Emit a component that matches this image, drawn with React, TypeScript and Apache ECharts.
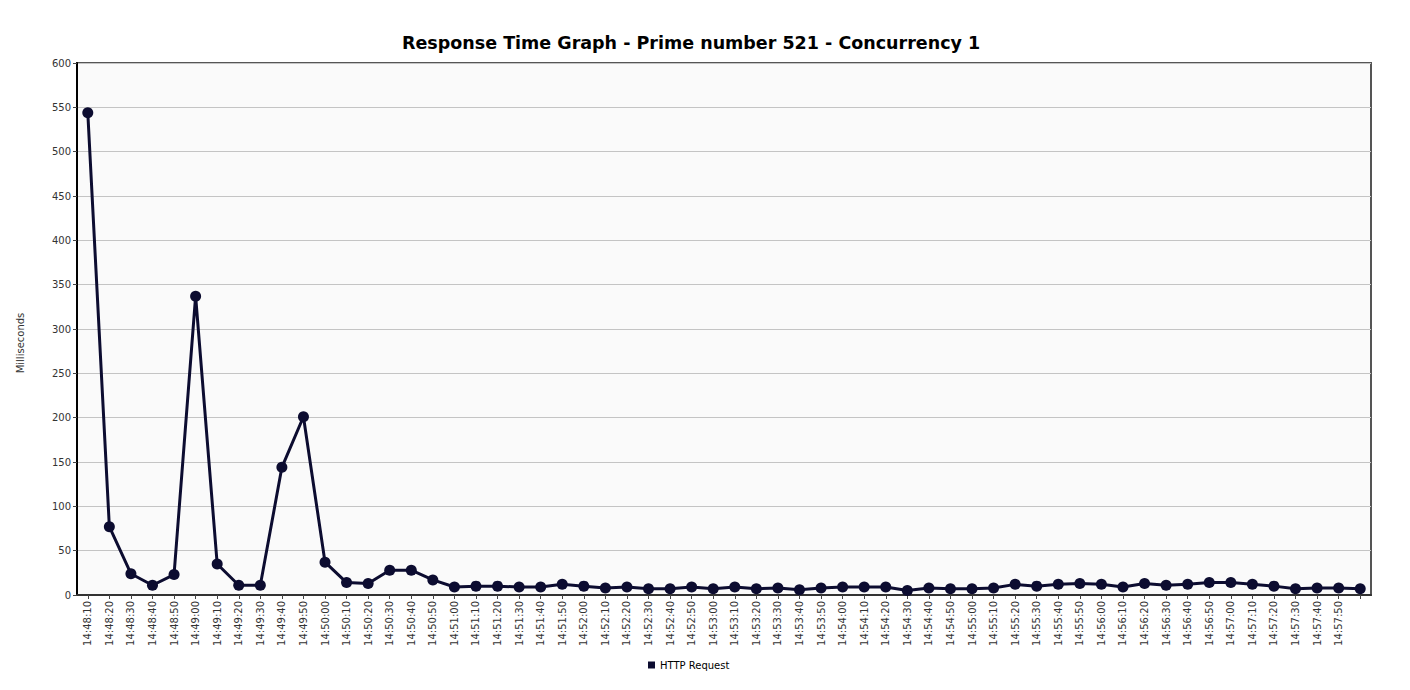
import React, { useEffect, useRef } from "react";
import * as echarts from "echarts";

const categories: string[] = [
  "14:48:10", "14:48:20", "14:48:30", "14:48:40", "14:48:50",
  "14:49:00", "14:49:10", "14:49:20", "14:49:30", "14:49:40", "14:49:50",
  "14:50:00", "14:50:10", "14:50:20", "14:50:30", "14:50:40", "14:50:50",
  "14:51:00", "14:51:10", "14:51:20", "14:51:30", "14:51:40", "14:51:50",
  "14:52:00", "14:52:10", "14:52:20", "14:52:30", "14:52:40", "14:52:50",
  "14:53:00", "14:53:10", "14:53:20", "14:53:30", "14:53:40", "14:53:50",
  "14:54:00", "14:54:10", "14:54:20", "14:54:30", "14:54:40", "14:54:50",
  "14:55:00", "14:55:10", "14:55:20", "14:55:30", "14:55:40", "14:55:50",
  "14:56:00", "14:56:10", "14:56:20", "14:56:30", "14:56:40", "14:56:50",
  "14:57:00", "14:57:10", "14:57:20", "14:57:30", "14:57:40", "14:57:50",
  "",
];

const httpRequest: number[] = [
  544, 77, 24, 11, 23,
  337, 35, 11, 11, 144, 201,
  37, 14, 13, 28, 28, 17,
  9, 10, 10, 9, 9, 12,
  10, 8, 9, 7, 7, 9,
  7, 9, 7, 8, 6, 8,
  9, 9, 9, 5, 8, 7,
  7, 8, 12, 10, 12, 13,
  12, 9, 13, 11, 12, 14,
  14, 12, 10, 7, 8, 8,
  7,
];

const titleText = "Response Time Graph - Prime number 521 - Concurrency 1";
const seriesName = "HTTP Request";
const yAxisName = "Milliseconds";

const FONT = "'DejaVu Sans', sans-serif";

export default function App() {
  const ref = useRef<HTMLDivElement>(null);
  useEffect(() => {
    if (!ref.current) return;
    const chart = echarts.init(ref.current, undefined, { renderer: "svg" });
    chart.setOption({
      animation: false,
      backgroundColor: "#ffffff",
      title: {
        text: titleText,
        left: 397,
        top: 29,
        textStyle: { fontFamily: FONT, fontSize: 17.5, fontWeight: "bold", color: "#000" },
      },
      legend: {
        data: [seriesName],
        left: 643,
        top: 655,
        icon: "rect",
        itemWidth: 7,
        itemHeight: 7,
        itemGap: 5,
        textStyle: { fontFamily: FONT, fontSize: 10, color: "#000" },
      },
      graphic: [
        {
          type: "text",
          x: 20,
          y: 343,
          rotation: Math.PI / 2,
          style: {
            text: yAxisName,
            fontFamily: FONT,
            fontSize: 10,
            fill: "#333",
            align: "center",
            verticalAlign: "middle",
          },
        },
      ],
      grid: {
        left: 77,
        top: 63,
        width: 1294,
        height: 532,
        show: true,
        backgroundColor: "#fafafa",
        borderColor: "#555555",
        borderWidth: 2,
      },
      xAxis: {
        type: "category",
        data: categories,
        boundaryGap: true,
        axisLine: { show: true, lineStyle: { color: "#333", width: 2 } },
        axisTick: { show: true, alignWithLabel: true, length: 4, lineStyle: { color: "#444" } },
        axisLabel: {
          interval: 0,
          rotate: 90,
          margin: 6,
          fontFamily: FONT,
          fontSize: 10,
          color: "#333",
        },
        splitLine: { show: false },
      },
      yAxis: {
        type: "value",
        min: 0,
        max: 600,
        interval: 50,
        axisLine: { show: true, lineStyle: { color: "#000", width: 2 } },
        axisTick: { show: true, length: 4, lineStyle: { color: "#444" } },
        axisLabel: { fontFamily: FONT, fontSize: 10, color: "#333", margin: 6 },
        splitLine: { show: true, lineStyle: { color: "#c4c4c4", width: 1 } },
      },
      series: [
        {
          name: seriesName,
          type: "line",
          data: httpRequest,
          symbol: "circle",
          symbolSize: 11,
          color: "#0c0c30",
          lineStyle: { color: "#0c0c30", width: 3 },
          itemStyle: { color: "#0c0c30" },
        },
      ],
    });
    return () => chart.dispose();
  }, []);
  return (
    <div
      ref={ref}
      style={{ position: "fixed", left: 0, top: 0, width: 1410, height: 690 }}
    />
  );
}
